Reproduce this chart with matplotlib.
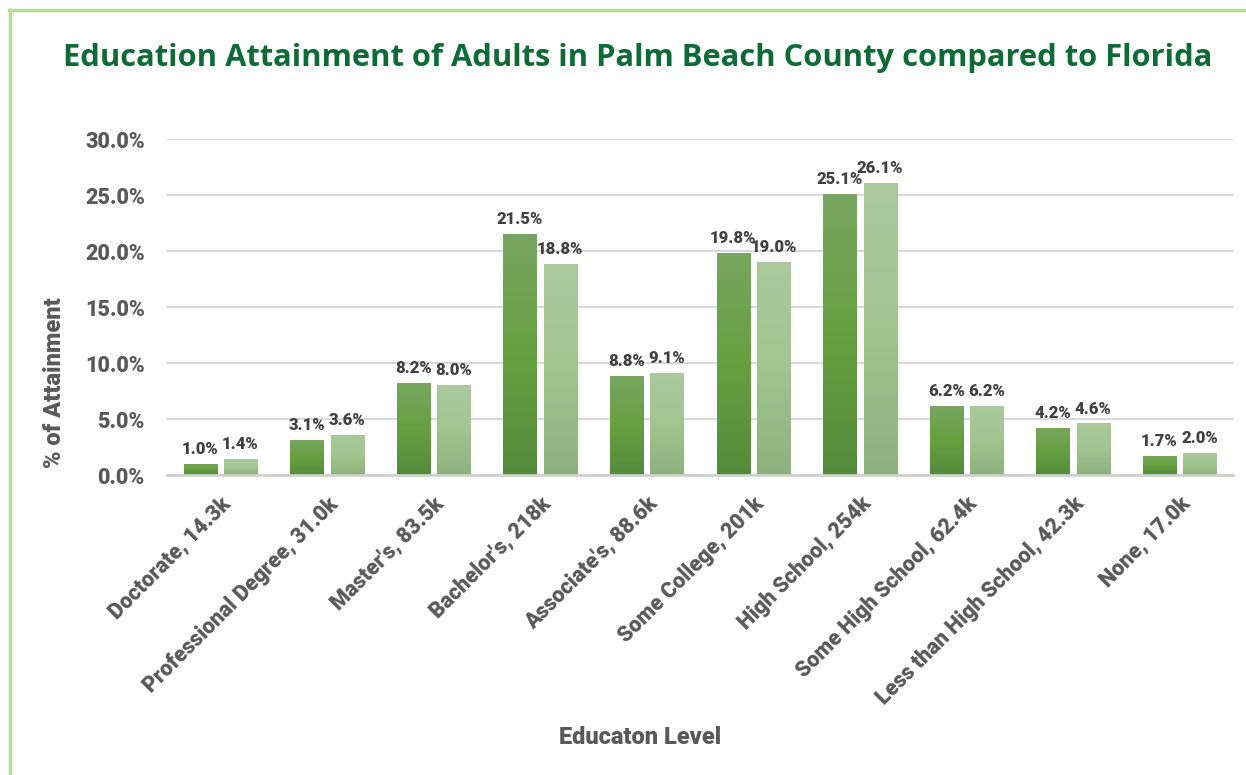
import matplotlib
matplotlib.use("Agg")
import matplotlib.pyplot as plt
import numpy as np
from matplotlib.colors import LinearSegmentedColormap
from matplotlib.lines import Line2D

categories = ["Doctorate, 14.3k", "Professional Degree, 31.0k", "Master's, 83.5k",
              "Bachelor's, 218k", "Associate's, 88.6k", "Some College, 201k",
              "High School, 254k", "Some High School, 62.4k",
              "Less than High School, 42.3k", "None, 17.0k"]
palm_beach = [1.0, 3.1, 8.2, 21.5, 8.8, 19.8, 25.1, 6.2, 4.2, 1.7]
florida = [1.4, 3.6, 8.0, 18.8, 9.1, 19.0, 26.1, 6.2, 4.6, 2.0]
yticks = [0, 5, 10, 15, 20, 25, 30]

W, H = 1246, 775
fig = plt.figure(figsize=(W / 100, H / 100), dpi=100)
fig.patch.set_facecolor("white")
ax = fig.add_axes([167 / W, 1 - 475 / H, (1233 - 167) / W, (475 - 139) / H])

label_font = "Roboto"
lw = "heavy"
gray = "#595959"
dark = "#404040"

cmap_dark = LinearSegmentedColormap.from_list("d", ["#548b3b", "#66a040", "#77a660"])
cmap_light = LinearSegmentedColormap.from_list("l", ["#8db17c", "#a1c58f", "#abc99d"])

x = np.arange(len(categories))
bw = 0.31
off = 0.19

ax.set_xlim(-0.5, len(categories) - 0.5)
ax.set_ylim(0, 30)

grad = np.linspace(0, 1, 256).reshape(-1, 1)
for vals, dx, cm in [(palm_beach, -off, cmap_dark), (florida, off, cmap_light)]:
    bars = ax.bar(x + dx, vals, width=bw, color="none", edgecolor="none", zorder=3)
    for b, v in zip(bars, vals):
        x0 = b.get_x()
        im = ax.imshow(grad, extent=(x0, x0 + b.get_width(), 0, v), origin="lower",
                       aspect="auto", cmap=cm, zorder=3)
        im.set_clip_path(b)
        ax.annotate(f"{v:.1f}%", (b.get_x() + b.get_width() / 2, v),
                    xytext=(0, 5), textcoords="offset points", ha="center", va="bottom",
                    fontsize=12, fontweight=lw, color=dark, family=label_font, zorder=4)

ax.set_xlim(-0.5, len(categories) - 0.5)
ax.set_ylim(0, 30)

ax.set_yticks(yticks)
ax.set_yticklabels([f"{t:.1f}%" for t in yticks], fontsize=15.5, fontweight=lw,
                   color=gray, family=label_font)
ax.set_xticks(x)
ax.set_xticklabels(categories, rotation=45, ha="right", va="top", rotation_mode="anchor",
                   fontsize=15.5, fontweight=lw, color=gray, family=label_font)
ax.tick_params(axis="both", length=0)
ax.tick_params(axis="y", pad=16)
ax.tick_params(axis="x", pad=13)

ax.grid(axis="y", color="#d9d9d9", linewidth=1.5, zorder=0)
ax.set_axisbelow(True)
for s in ["top", "right", "left"]:
    ax.spines[s].set_visible(False)
ax.spines["bottom"].set_color("#d0d0d0")
ax.spines["bottom"].set_linewidth(2)
ax.spines["bottom"].set_zorder(5)

fig.text(638 / W, 1 - 58 / H, "Education Attainment of Adults in Palm Beach County compared to Florida",
         ha="center", va="center", fontsize=22.2, fontweight="bold", color="#0e6b37",
         family="Open Sans")
fig.text(640 / W, 1 - 738 / H, "Educaton Level", ha="center", va="center",
         fontsize=17, fontweight=lw, color=gray, family=label_font)
fig.text(55 / W, 1 - 383 / H, "% of Attainment", ha="center", va="center", rotation=90,
         fontsize=17, fontweight=lw, color=gray, family=label_font)

bc = "#b5dc9c"
fig.add_artist(Line2D([10 / W, 10 / W], [0, 1 - 10 / H], color=bc, linewidth=2.5,
                      transform=fig.transFigure))
fig.add_artist(Line2D([9 / W, 1], [1 - 10 / H, 1 - 10 / H], color=bc, linewidth=2.5,
                      transform=fig.transFigure))

fig.savefig("out.png", dpi=100, facecolor="white")
